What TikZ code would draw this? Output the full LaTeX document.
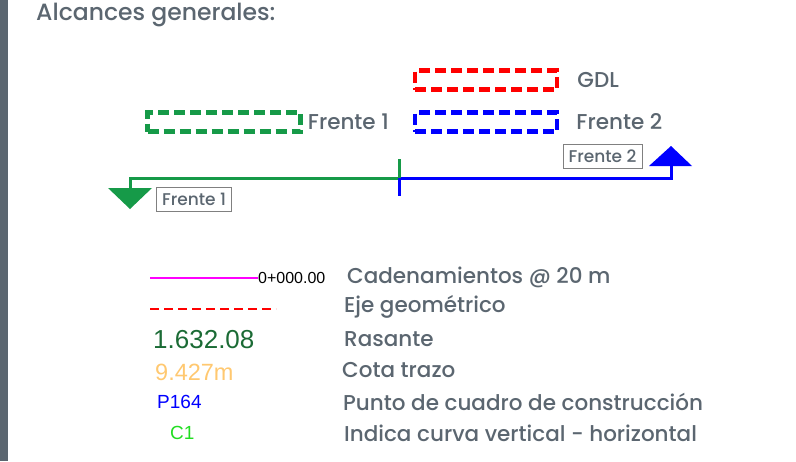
\documentclass[tikz,border=0pt]{standalone}
\usepackage{fontspec}
\setmainfont{Poppins}[UprightFont={* Medium}]
\newfontfamily\cadfont{Liberation Sans}
\usetikzlibrary{positioning}
\definecolor{txtgray}{HTML}{5B6670}
\definecolor{fgreen}{HTML}{169A48}
\definecolor{rasgreen}{HTML}{1B6B35}
\definecolor{cotaorange}{HTML}{FFC870}
\definecolor{curvgreen}{HTML}{22DD22}
\definecolor{cadmag}{HTML}{FF00FF}
\tikzset{dbox/.style={line width=4.5pt,dash pattern=on 11pt off 5pt,minimum width=142pt,minimum height=19pt,inner sep=0pt},
         lbl/.style={text=txtgray,font=\fontsize{21.5}{21.5}\selectfont,anchor=west,inner sep=0pt},
         tag/.style={draw=gray,fill=white,text=txtgray,font=\fontsize{17}{17}\selectfont,inner xsep=5.5pt,minimum height=24pt},
         eje/.style={line width=3pt}}

\begin{document}
\begin{tikzpicture}[x=1pt,y=-1pt]
  \useasboundingbox (0,0) rectangle (796,461);
  \fill[txtgray] (0,0) rectangle (8,461);
  \node[lbl,font=\fontsize{23.5}{23.5}\selectfont,anchor=base west] (title) at (36,20) {Alcances generales:};
  % frentes
  \node[dbox,draw=red] (gdlbox) at (486,80) {};
  \node[lbl,right=18pt of gdlbox] (gdl) {GDL};
  \node[dbox,draw=blue] (f2box) at (486,122) {};
  \node[lbl,right=17pt of f2box] (f2) {Frente 2};
  \node[dbox,draw=fgreen,minimum width=153pt] (f1box) at (224,122) {};
  \node[lbl,right=5pt of f1box] (f1) {Frente 1};
  % eje
  \coordinate (mid) at (399,178);
  \coordinate (a1) at (130,189);
  \coordinate (a2) at (671,166);
  \fill[fgreen] (108,188) -- (152,188) -- (130,209) -- cycle;
  \fill[blue] (649,166) -- (692,166) -- (671,146) -- cycle;
  \draw[eje,fgreen] (a1) |- (mid);
  \draw[eje,blue] (mid) -| (a2);
  \draw[eje,blue] (mid) -- ++(0,18);
  \draw[eje,fgreen] (mid) -- ++(0,-19);
  \node[tag] (tag1) at (194,199.5) {Frente 1};
  \node[tag] (tag2) at (602.5,156) {Frente 2};
  % simbologia
  \coordinate (m0) at (150,278);
  \node[anchor=west,inner sep=0pt,font=\cadfont\fontsize{16}{16}\selectfont] (cad0) at (258,278) {0+000.00};
  \draw[cadmag,line width=1.5pt] (m0) -- (cad0.west);
  \coordinate (r0) at (150,309);
  \coordinate (r1) at (276,309);
  \draw[red,line width=2.5pt,dash pattern=on 9pt off 5pt] (r0) -- (r1);
  \node[anchor=west,inner sep=0pt,text=rasgreen,font=\cadfont\fontsize{26}{26}\selectfont] (ras) at (153,340) {1.632.08};
  \node[anchor=west,inner sep=0pt,text=cotaorange,font=\cadfont\fontsize{23.5}{23.5}\selectfont] (cota) at (155,372) {9.427m};
  \node[anchor=west,inner sep=0pt,text=blue,font=\cadfont\fontsize{19}{19}\selectfont] (pto) at (157,402) {P164};
  \node[anchor=west,inner sep=0pt,text=curvgreen,font=\cadfont\fontsize{19}{19}\selectfont] (curv) at (170,433) {C1};
  \node[lbl] (d1) at (347,277) {Cadenamientos @ 20 m};
  \node[lbl] (d2) at (344,307) {Eje geométrico};
  \node[lbl] (d3) at (344,339) {Rasante};
  \node[lbl] (d4) at (342,370) {Cota trazo};
  \node[lbl] (d5) at (343,402) {Punto de cuadro de construcción};
  \node[lbl] (d6) at (344,433) {Indica curva vertical - horizontal};
\end{tikzpicture}
\end{document}
